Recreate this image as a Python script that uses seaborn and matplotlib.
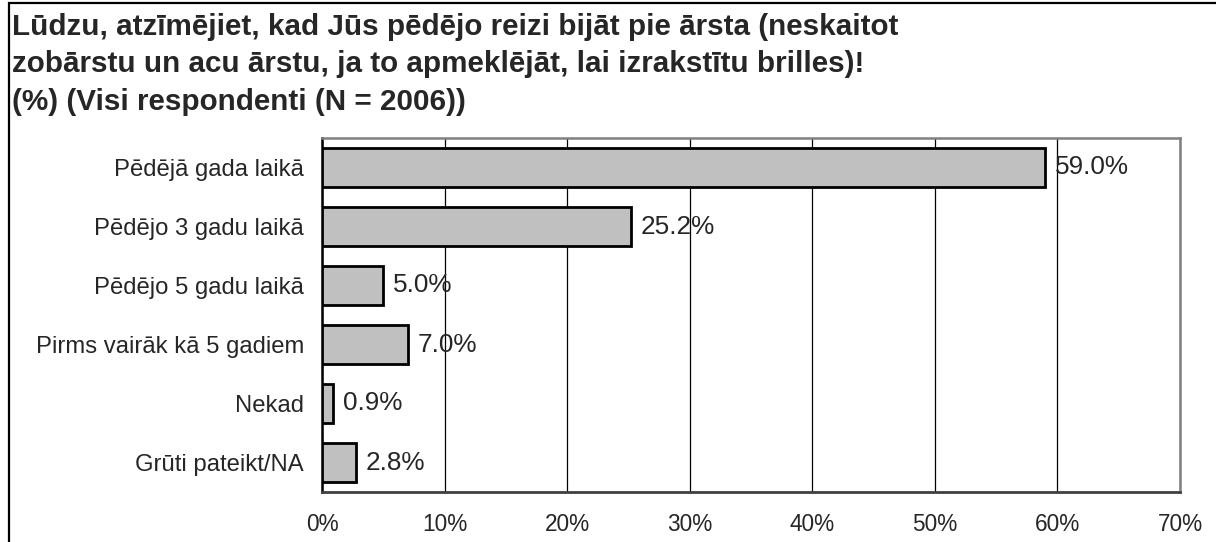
import numpy as np
import pandas as pd
import matplotlib
matplotlib.use("Agg")
import matplotlib.pyplot as plt
import seaborn as sns
from matplotlib.patches import Rectangle
from matplotlib.ticker import FixedLocator

# Dati
categories = ["Pēdējā gada laikā", "Pēdējo 3 gadu laikā", "Pēdējo 5 gadu laikā",
              "Pirms vairāk kā 5 gadiem", "Nekad", "Grūti pateikt/NA"]
values = [59.0, 25.2, 5.0, 7.0, 0.9, 2.8]
x_ticks = [0, 10, 20, 30, 40, 50, 60, 70]
title_lines = ["Lūdzu, atzīmējiet, kad Jūs pēdējo reizi bijāt pie ārsta (neskaitot",
               "zobārstu un acu ārstu, ja to apmeklējāt, lai izrakstītu brilles)!",
               "(%) (Visi respondenti (N = 2006))"]

df = pd.DataFrame({"kategorija": categories, "vertiba": values})

sns.set_style("white")
plt.rcParams["font.family"] = ["Liberation Sans", "DejaVu Sans"]

W, H = 1216, 542
fig = plt.figure(figsize=(W / 100, H / 100), dpi=100)
ax = fig.add_axes([322 / W, 1 - 492 / H, (1180 - 322) / W, (492 - 138) / H])

sns.barplot(data=df, x="vertiba", y="kategorija", orient="h", ax=ax,
            color="#C0C0C0", saturation=1, edgecolor="black", linewidth=2,
            width=0.67, zorder=3)

ax.set_xlim(0, 70)
ax.set_ylim(5.5, -0.5)
ax.set_xticks(x_ticks)
ax.set_xticklabels([f"{t}%" for t in x_ticks], fontsize=16.3)
ax.tick_params(axis="x", length=8, width=1.2, pad=7, color="black")
ax.tick_params(axis="y", which="major", length=0, pad=13, labelsize=17.2)
ax.yaxis.set_minor_locator(FixedLocator(np.arange(-0.5, 6, 1)))
ax.tick_params(axis="y", which="minor", length=10, width=1.2, color="black")
ax.set_xlabel("")
ax.set_ylabel("")

ax.xaxis.grid(True, color="black", linewidth=0.9, zorder=0)
ax.set_axisbelow(True)
for side in ["top", "right"]:
    ax.spines[side].set_color("#808080")
    ax.spines[side].set_linewidth(1.8)
ax.spines["left"].set_color("black")
ax.spines["left"].set_linewidth(1.8)
ax.spines["bottom"].set_color("#404040")
ax.spines["bottom"].set_linewidth(2)

# Vērtību etiķetes
for cont in ax.containers:
    ax.bar_label(cont, labels=[f"{v:.1f}%" for v in values], padding=7, fontsize=18.8)

# Virsraksts
for i, line in enumerate(title_lines):
    fig.text(12 / W, 1 - (35 + 37.5 * i) / H, line, fontsize=21.3,
             fontweight="bold", ha="left", va="baseline")

# Rāmis
fig.patches.append(Rectangle((9 / W, -0.05), 1.1, 1.05 - 2.5 / H, transform=fig.transFigure,
                             fill=False, edgecolor="black", linewidth=1.6))

fig.savefig("out.png", dpi=100)
